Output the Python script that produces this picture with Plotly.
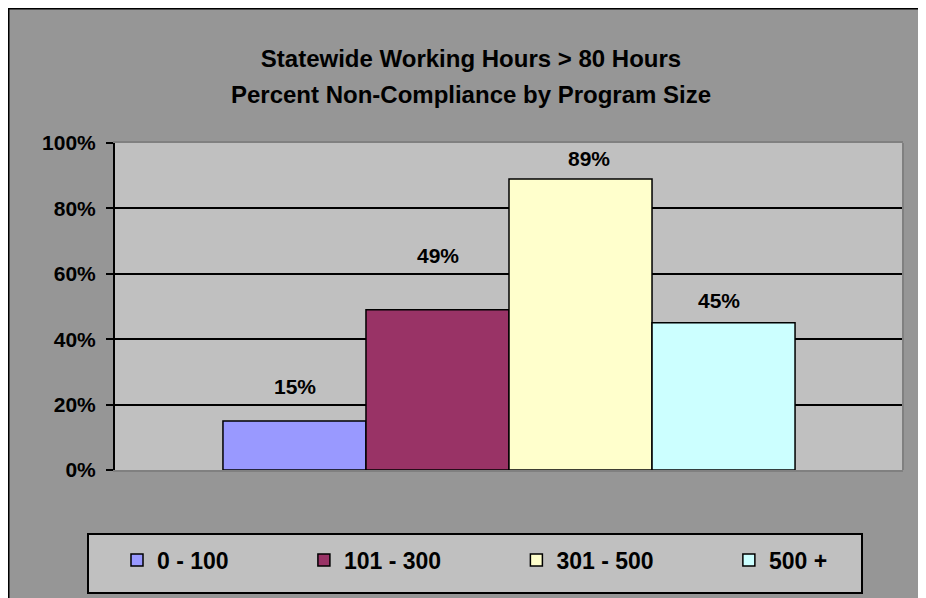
import plotly.graph_objects as go

# ---- data ----
categories = ["Statewide"]
sizes = ["0 - 100", "101 - 300", "301 - 500", "500 +"]
pct = [0.15, 0.49, 0.89, 0.45]
labels = ["15%", "49%", "89%", "45%"]
colors = ["#9999FF", "#993366", "#FFFFCC", "#CCFFFF"]
y_ticks = [0, 0.2, 0.4, 0.6, 0.8, 1.0]
y_ticklabels = ["0%", "20%", "40%", "60%", "80%", "100%"]
title_lines = ["Statewide Working Hours > 80 Hours", "Percent Non-Compliance by Program Size"]

# ---- style / layout (pixels) ----
label_dx = [0.5, 0.5, 8.5, -4.5]     # label offsets from bar centre
label_dy = [34, 54, 20.5, 22.5]      # label centre above bar top
W, H = 926, 598
L, R, T, B = 107, 31, 135, 136
PW, PH = W - L - R, H - T - B
BARGAP = 0.274
BARW = PW * (1 - BARGAP) / len(sizes)

def px(x):
    return (x - L) / PW

def py(y):
    return (H - B - y) / PH

FONT = "Liberation Sans, Arial, sans-serif"
NBSP = "\u00a0" * 11

fig = go.Figure()
for name, v, c in zip(sizes, pct, colors):
    fig.add_trace(go.Bar(
        x=categories, y=[v], name=name + NBSP,
        marker=dict(color=c, line=dict(color="black", width=1.5)),
        hoverinfo="name+y",
    ))

annotations = []
n = len(sizes)
for i, (v, lab) in enumerate(zip(pct, labels)):
    annotations.append(dict(
        x=categories[0], y=v, xref="x", yref="y", text=lab, showarrow=False,
        xshift=(i - (n - 1) / 2) * BARW + label_dx[i], yshift=label_dy[i],
        xanchor="center", yanchor="middle",
        font=dict(family=FONT, size=21, color="black", weight="bold"),
    ))

shapes = [
    # legend box
    dict(type="rect", xref="paper", yref="paper", x0=px(80), x1=px(854), y0=py(526), y1=py(585),
         fillcolor="#C0C0C0", line=dict(color="black", width=2), layer="below"),
    # chart frame lines (left / top)
    dict(type="line", xref="paper", yref="paper", x0=px(0.5), x1=px(0.5), y0=py(0), y1=py(H),
         line=dict(color="black", width=2)),
    dict(type="line", xref="paper", yref="paper", x0=px(0), x1=px(W), y0=py(0.5), y1=py(0.5),
         line=dict(color="black", width=2)),
    # plot area right border
    dict(type="line", xref="paper", yref="paper", x0=1, x1=1, y0=0, y1=1,
         line=dict(color="#808080", width=2)),
]

title_text = "<br>".join("<span style='font-size:24px'>%s</span>" % t for t in title_lines)

fig.update_layout(
    width=W, height=H,
    margin=dict(l=L, r=R, t=T, b=B, autoexpand=False),
    paper_bgcolor="#969696",
    plot_bgcolor="#C0C0C0",
    barmode="group", bargap=BARGAP, bargroupgap=0,
    font=dict(family=FONT, color="black", size=21, weight="bold"),
    title=dict(
        text=title_text,
        x=0.5, xanchor="center", xref="container",
        y=1 - 59 / H, yanchor="middle", yref="container",
        font=dict(family=FONT, size=28, color="black", weight="bold"),
    ),
    xaxis=dict(showticklabels=False, ticks="", showgrid=False, zeroline=False,
               showline=True, linecolor="#808080", linewidth=2, mirror=True),
    yaxis=dict(range=[0, 1], tickvals=y_ticks, ticktext=y_ticklabels,
               showgrid=True, gridcolor="black", gridwidth=1.5, zeroline=False,
               showline=True, linecolor="black", linewidth=2,
               ticks="outside", ticklen=7, tickwidth=2, tickcolor="black",
               ticklabelstandoff=6,
               tickfont=dict(family=FONT, size=21, color="black", weight="bold")),
    showlegend=True,
    legend=dict(orientation="h", x=px(109), xanchor="left", y=py(552), yanchor="middle",
                bgcolor="rgba(0,0,0,0)", borderwidth=0, traceorder="normal",
                font=dict(family=FONT, size=23, color="black", weight="bold")),
    shapes=shapes,
    annotations=annotations,
)

fig.write_html("out.html")
